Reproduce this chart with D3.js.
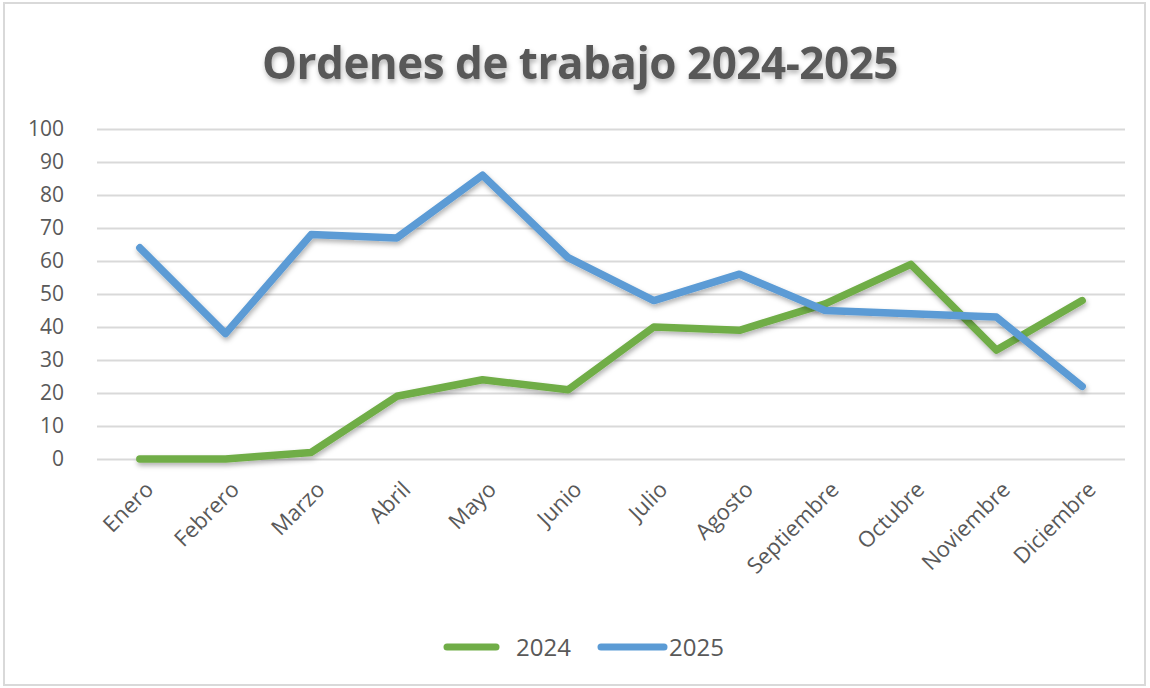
<!DOCTYPE html>
<html><head><meta charset="utf-8">
<script src="https://cdn.jsdelivr.net/npm/d3@7"></script>
<style>body{margin:0;background:#fff;}</style>
</head><body>
<svg id="c" width="1150" height="688"></svg>
<script>
const months = ["Enero","Febrero","Marzo","Abril","Mayo","Junio","Julio","Agosto","Septiembre","Octubre","Noviembre","Diciembre"];
const values2024 = [0,0,2,19,24,21,40,39,47,59,33,48];
const values2025 = [64,38,68,67,86,61,48,56,45,44,43,22];
const yTicks = [0,10,20,30,40,50,60,70,80,90,100];
const seriesNames = ["2024","2025"];
const colors = ["#70AD47","#5B9BD5"];

const svg = d3.select("#c");
const font = "'Open Sans', 'Liberation Sans', sans-serif";
const text = "#595959";

svg.append("rect").attr("x",4).attr("y",3).attr("width",1141).attr("height",682)
  .attr("fill","#fff").attr("stroke","#d9d9d9").attr("stroke-width",2);

const defs = svg.append("defs");
const f = defs.append("filter").attr("id","sh").attr("x","-10%").attr("y","-10%").attr("width","120%").attr("height","130%");
f.append("feDropShadow").attr("dx",1).attr("dy",3).attr("stdDeviation",2.5).attr("flood-color","#000").attr("flood-opacity",0.3);

svg.append("text").attr("x",580).attr("y",79).attr("text-anchor","middle")
  .attr("font-family",font).attr("font-weight","bold").attr("font-size",44).attr("fill",text)
  .attr("letter-spacing",-0.5)
  .attr("filter","url(#sh)")
  .text("Ordenes de trabajo  2024-2025");

const x = d3.scaleBand().domain(months).range([97,1125]);
const y = d3.scaleLinear().domain([0,100]).range([459,129]);

const gy = svg.append("g").attr("transform","translate(97,0)")
  .call(d3.axisLeft(y).tickValues(yTicks).tickSize(-1028).tickPadding(30).tickFormat(d3.format("d")));
gy.select(".domain").remove();
gy.selectAll("line").attr("stroke","#d9d9d9").attr("stroke-width",2);
gy.selectAll("text").attr("font-family",font).attr("font-size",21).attr("fill",text).attr("text-anchor","end");
gy.selectAll(".tick text").attr("x",-33);

const gx = svg.append("g").attr("transform","translate(0,459)")
  .call(d3.axisBottom(x).tickSize(0).tickPadding(0));
gx.select(".domain").remove();
gx.selectAll("text").attr("font-family",font).attr("font-size",22).attr("fill",text)
  .attr("text-anchor","end").attr("dy","0").attr("y",0)
  .attr("transform","translate(15,32) rotate(-45)");

const line = d3.line().x((d,i)=>x(months[i])+x.bandwidth()/2).y(d=>y(d));
[values2024, values2025].forEach((vals,k)=>{
  svg.append("path").datum(vals).attr("d",line).attr("fill","none")
    .attr("stroke",colors[k]).attr("stroke-width",7.5).attr("stroke-linejoin","round").attr("stroke-linecap","round")
    .attr("filter","url(#sh)");
});

const legend = [{x0:447,x1:496,tx:516},{x0:601,x1:664,tx:669}];
legend.forEach((l,k)=>{
  svg.append("line").attr("x1",l.x0).attr("x2",l.x1).attr("y1",647).attr("y2",647)
    .attr("stroke",colors[k]).attr("stroke-width",7).attr("stroke-linecap","round");
  svg.append("text").attr("x",l.tx).attr("y",656).attr("font-family",font).attr("font-size",24).attr("fill",text).text(seriesNames[k]);
});
</script>
</body></html>
